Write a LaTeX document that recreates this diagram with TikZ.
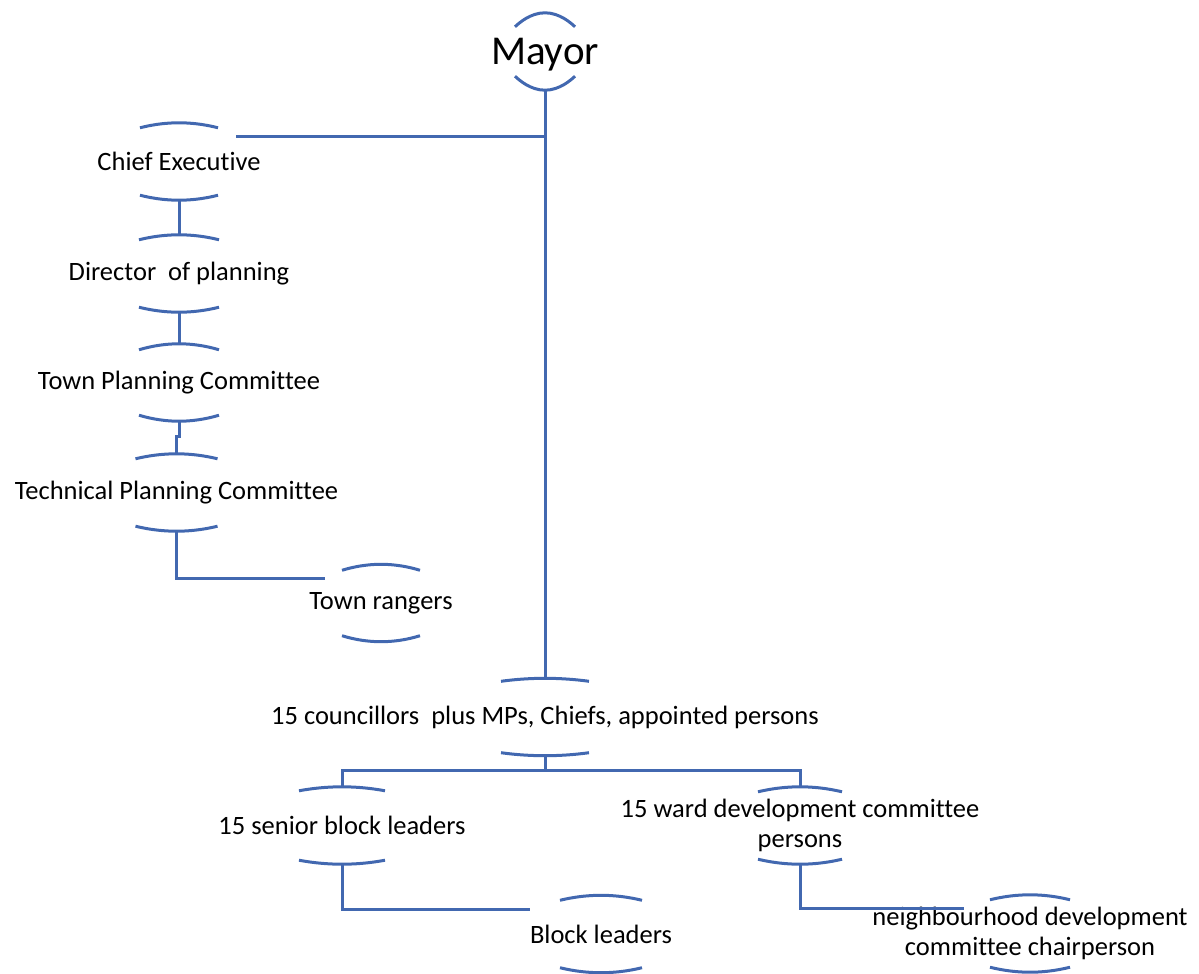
\documentclass[tikz,border=0pt]{standalone}
\usepackage{fontspec}
\setmainfont[Ligatures=NoCommon]{Carlito}
\usepackage{tikz}
\usetikzlibrary{positioning,calc}

\definecolor{linkblue}{RGB}{66,104,176}

\tikzset{
  unit/.style={inner sep=0pt, minimum height=77pt, align=center,
    font=\fontsize{26.5}{30}\selectfont},
  link/.style={draw=linkblue, line width=3pt},
  arcline/.style={draw=linkblue, line width=3pt}
}

% top and bottom arcs of an oval: node, half chord, sag
\newcommand{\ovalarcs}[3]{%
  \draw[arcline] ($(#1.north)+(-#2,-#3)$) parabola bend (#1.north) ($(#1.north)+(#2,-#3)$);
  \draw[arcline] ($(#1.south)+(-#2,#3)$) parabola bend (#1.south) ($(#1.south)+(#2,#3)$);
}

\begin{document}
\begin{tikzpicture}[x=1pt, y=1pt]
\useasboundingbox (0,0) rectangle (1199,-974);
\node [unit, font=\fontsize{41}{44}\selectfont, text depth=0pt] (mayor) at (545,-51.5) {Mayor};
\node [unit] (chief) at (179,-161.5) {Chief Executive};
\node [unit, below of=chief, node distance=112pt] (director) {Director\ \ of planning};
\node [unit, below of=director, node distance=109pt] (tp) {Town Planning Committee};
\node [unit, below of=tp, node distance=110pt, xshift=-2.5pt] (tech) {Technical Planning Committee};
\node [unit, right of=tech, node distance=204.5pt, yshift=-110.5pt] (rangers) {Town rangers};
\node [unit, below of=mayor, node distance=665.5pt] (councillors) {15 councillors\ \ plus MPs, Chiefs, appointed persons};
\node [unit, below of=councillors, node distance=108.5pt, xshift=-203pt] (senior) {15 senior block leaders};
\node [unit, right of=senior, node distance=458pt] (ward) {15 ward development committee\\persons};
\node [unit, right of=senior, node distance=259pt, yshift=-108.5pt] (block) {Block leaders};
\node [unit, right of=ward, node distance=230pt, yshift=-108pt] (neigh) {neighbourhood development\\committee chairperson};
\ovalarcs{mayor}{30}{14}
\ovalarcs{chief}{39}{5}
\ovalarcs{director}{40}{5}
\ovalarcs{tp}{40}{6}
\ovalarcs{tech}{41}{5}
\ovalarcs{rangers}{39}{6}
\ovalarcs{councillors}{44}{3}
\ovalarcs{senior}{43}{4}
\ovalarcs{ward}{42}{5}
\ovalarcs{block}{41}{5}
\ovalarcs{neigh}{40}{5}
\coordinate (chiefin) at ($(chief.north)+(57,-14)$);
\coordinate (rangersin) at ($(rangers.north)+(-56,-14)$);
\coordinate (blockin) at ($(block.north)+(-71,-14)$);
\coordinate (neighin) at ($(neigh.north)+(-66,-14)$);
\draw[link] (mayor.south) -- (councillors.north);
\draw[link] (chiefin) -- (chiefin -| mayor.south);
\draw[link] (chief.south) -- (director.north);
\draw[link] (director.south) -- (tp.north);
\draw[link] (tp.south) -- ++(0,-15) -| (tech.north);
\draw[link] (tech.south) |- (rangersin);
\draw[link] (councillors.south) -- ++(0,-14);
\draw[link] (senior.north) -- ++(0,16) -| (ward.north);
\draw[link] (senior.south) |- (blockin);
\draw[link] (ward.south) |- (neighin);
\end{tikzpicture}
\end{document}
